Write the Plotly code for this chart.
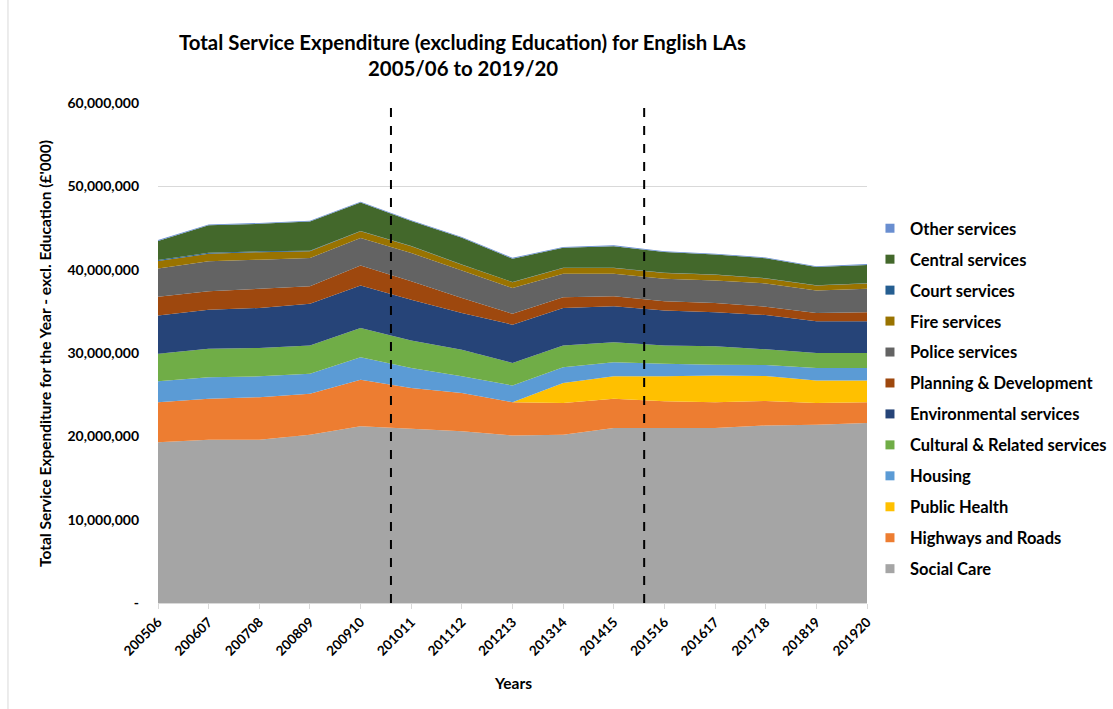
import plotly.graph_objects as go

# Financial years (category axis)
years = ["200506", "200607", "200708", "200809", "200910", "201011", "201112",
         "201213", "201314", "201415", "201516", "201617", "201718", "201819", "201920"]

# Service expenditure by service area, £'000
social_care = [19300000, 19600000, 19600000, 20200000, 21200000, 20900000, 20600000, 20100000,
               20200000, 21000000, 21000000, 21000000, 21300000, 21400000, 21600000]
highways_roads = [4800000, 4900000, 5100000, 4900000, 5600000, 4900000, 4600000, 4000000,
                  3800000, 3500000, 3200000, 3100000, 2950000, 2600000, 2500000]
public_health = [0, 0, 0, 0, 0, 0, 0, 0,
                 2400000, 2700000, 3000000, 3200000, 3000000, 2700000, 2600000]
housing = [2500000, 2600000, 2500000, 2400000, 2700000, 2400000, 2000000, 2000000,
           1900000, 1700000, 1500000, 1300000, 1300000, 1500000, 1500000]
cultural = [3300000, 3400000, 3400000, 3400000, 3500000, 3300000, 3200000, 2700000,
            2600000, 2400000, 2200000, 2200000, 1900000, 1800000, 1800000]
environmental = [4600000, 4700000, 4800000, 5000000, 5100000, 4900000, 4400000, 4600000,
                 4500000, 4300000, 4200000, 4100000, 4100000, 3800000, 3800000]
planning = [2250000, 2200000, 2300000, 2100000, 2400000, 2200000, 1800000, 1300000,
            1300000, 1200000, 1100000, 1100000, 1000000, 1000000, 1100000]
police = [3400000, 3600000, 3500000, 3400000, 3300000, 3400000, 3300000, 3100000,
          2800000, 2700000, 2700000, 2700000, 2800000, 2700000, 2800000]
fire = [900000, 900000, 900000, 800000, 800000, 800000, 700000, 700000,
        700000, 700000, 700000, 700000, 600000, 600000, 650000]
court = [100000, 120000, 100000, 80000, 50000, 30000, 30000, 20000,
         20000, 20000, 20000, 20000, 20000, 20000, 20000]
central = [2300000, 3300000, 3300000, 3500000, 3400000, 3000000, 3200000, 2800000,
           2400000, 2600000, 2500000, 2400000, 2400000, 2200000, 2200000]
other = [100000, 100000, 100000, 100000, 100000, 100000, 100000, 100000,
         100000, 100000, 100000, 100000, 100000, 100000, 100000]

y_ticks = [0, 10000000, 20000000, 30000000, 40000000, 50000000, 60000000]
y_ticktext = ["-", "10,000,000", "20,000,000", "30,000,000", "40,000,000", "50,000,000", "60,000,000"]

# Stacking order, bottom to top
series = [
    ("Social Care", social_care, "#A5A5A5"),
    ("Highways and Roads", highways_roads, "#ED7D31"),
    ("Public Health", public_health, "#FFC000"),
    ("Housing", housing, "#5B9BD5"),
    ("Cultural & Related services", cultural, "#70AD47"),
    ("Environmental services", environmental, "#264478"),
    ("Planning & Development", planning, "#9E480E"),
    ("Police services", police, "#636363"),
    ("Fire services", fire, "#997300"),
    ("Court services", court, "#255E91"),
    ("Central services", central, "#43682B"),
    ("Other services", other, "#698ED0"),
]

FONT = "Lato"
x_idx = list(range(len(years)))

fig = go.Figure()
for name, vals, color in series:
    fig.add_trace(go.Scatter(
        x=x_idx, y=vals, name=name, mode="none", stackgroup="one",
        fillcolor=color, showlegend=False, hoverinfo="x+y+name",
    ))

# Square legend keys, listed top of stack first
for name, vals, color in reversed(series):
    fig.add_trace(go.Scatter(
        x=[None], y=[None], name=name, mode="markers", legendgroup=name,
        marker=dict(symbol="square", size=9, color=color),
    ))

# Dashed markers between periods
for xpos in (4.6, 9.6):
    fig.add_shape(type="line", xref="x", yref="y", x0=xpos, x1=xpos, y0=0, y1=60400000,
                  line=dict(color="black", width=2, dash="dash"))

# Chart border (left edge)
fig.add_shape(type="line", xref="paper", yref="paper", x0=-0.2116, x1=-0.2116, y0=-0.25, y1=1.25,
              line=dict(color="#D9D9D9", width=1))

W, H = 1113, 709
L, R, T, B = 158, 246, 103, 106

fig.update_layout(
    width=W, height=H,
    margin=dict(l=L, r=R, t=T, b=B, autoexpand=False),
    paper_bgcolor="white", plot_bgcolor="white",
    font=dict(family=FONT, color="#000000"),
    showlegend=True,
    legend=dict(
        x=1.0042, xanchor="left", y=0.784, yanchor="top",
        font=dict(family=FONT, size=16.5, color="#000000", weight="bold"),
        tracegroupgap=6.5, itemwidth=30, bgcolor="rgba(0,0,0,0)",
    ),
    xaxis=dict(
        range=[0, 14], tickmode="array", tickvals=x_idx, ticktext=years,
        tickangle=-45, ticks="outside", ticklen=5, tickcolor="#D9D9D9",
        showline=True, linecolor="#D9D9D9", linewidth=1, showgrid=False, zeroline=False,
        tickfont=dict(family=FONT, size=13.5, color="#000000", weight="bold"),
    ),
    yaxis=dict(
        range=[0, 60000000], tickmode="array", tickvals=y_ticks, ticktext=y_ticktext,
        showgrid=True, gridcolor="#D9D9D9", gridwidth=1, zeroline=False, showline=False,
        ticks="", ticklabelstandoff=18,
        tickfont=dict(family=FONT, size=14, color="#000000", weight="bold"),
    ),
    annotations=[
        dict(text="<b>Total Service Expenditure (excluding Education) for English LAs</b>",
             xref="paper", yref="paper", x=0.43, y=1.122, xanchor="center", yanchor="middle",
             showarrow=False, font=dict(family=FONT, size=20.4, color="#000000")),
        dict(text="<b>2005/06 to 2019/20</b>",
             xref="paper", yref="paper", x=0.43, y=1.07, xanchor="center", yanchor="middle",
             showarrow=False, font=dict(family=FONT, size=20.4, color="#000000")),
        dict(text="<b>Years</b>", xref="paper", yref="paper", x=0.5, y=-0.16,
             xanchor="center", yanchor="middle", showarrow=False,
             font=dict(family=FONT, size=15.5, color="#000000")),
        dict(text="<b>Total Service Expenditure for the Year - excl. Education (£'000)</b>",
             xref="paper", yref="paper", x=-0.1594, y=0.5, xanchor="center", yanchor="middle",
             textangle=-90, showarrow=False, font=dict(family=FONT, size=15.5, color="#000000")),
    ],
)

fig.write_html("out.html")
